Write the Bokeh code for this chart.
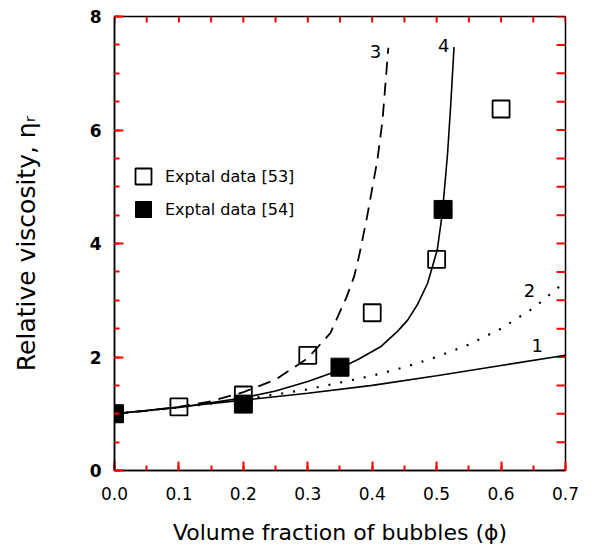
from bokeh.plotting import figure
from bokeh.models import (SingleIntervalTicker, PrintfTickFormatter,
                          Legend, LegendItem, Label, Range1d)
from bokeh.embed import file_html
from bokeh.resources import INLINE

# ---- data ----
phi_c1 = [0.0, 0.1, 0.2, 0.3, 0.4, 0.5, 0.6, 0.7]
eta_c1 = [1.0, 1.12, 1.24, 1.36, 1.50, 1.67, 1.85, 2.03]

phi_c2 = [0.0, 0.1, 0.2, 0.3, 0.4, 0.45, 0.5, 0.55, 0.6, 0.65, 0.7]
eta_c2 = [1.0, 1.11, 1.25, 1.43, 1.67, 1.82, 2.0, 2.22, 2.5, 2.86, 3.33]

phi_c3 = [0.0, 0.05, 0.1, 0.15, 0.2, 0.25, 0.3, 0.335, 0.36, 0.372, 0.38, 0.392, 0.40, 0.408, 0.416, 0.421, 0.425]
eta_c3 = [1.0, 1.05, 1.12, 1.22, 1.38, 1.6, 1.98, 2.42, 3.05, 3.42, 3.8, 4.47, 4.97, 5.47, 6.17, 6.88, 7.45]

phi_c4 = [0.0, 0.1, 0.2, 0.25, 0.3, 0.335, 0.35, 0.38, 0.413, 0.44, 0.455, 0.47, 0.486, 0.501, 0.509, 0.517, 0.522, 0.527]
eta_c4 = [1.0, 1.11, 1.28, 1.40, 1.57, 1.71, 1.80, 1.97, 2.18, 2.46, 2.65, 2.92, 3.30, 3.89, 4.55, 5.59, 6.47, 7.46]

phi_53 = [0.1, 0.2, 0.3, 0.4, 0.5, 0.6]
eta_53 = [1.12, 1.33, 2.03, 2.78, 3.72, 6.37]

phi_54 = [0.0, 0.2, 0.35, 0.51]
eta_54 = [1.0, 1.17, 1.82, 4.6]

curve_labels = ["1", "2", "3", "4"]
curve_label_x = [0.656, 0.644, 0.405, 0.511]
curve_label_y = [2.2, 3.17, 7.38, 7.49]

x_major = [0.0, 0.1, 0.2, 0.3, 0.4, 0.5, 0.6, 0.7]
x_minor = [0.05, 0.15, 0.25, 0.35, 0.45, 0.55, 0.65]
y_major = [0, 2, 4, 6, 8]
y_minor = [0.5, 1, 1.5, 2.5, 3, 3.5, 4.5, 5, 5.5, 6.5, 7, 7.5]

X0, X1 = 0.0, 0.7
Y0, Y1 = 0.0, 8.0

FONT = "DejaVu Sans"
TICK = "red"
FRAME_W, FRAME_H = 451, 455   # plot-area size in px

p = figure(width=593, height=547, output_backend="svg", toolbar_location=None,
           x_range=Range1d(X0, X1 + 1e-6), y_range=Range1d(Y0, Y1),
           min_border_left=114, min_border_right=28, min_border_top=16, min_border_bottom=76,
           x_axis_label="Volume fraction of bubbles (ϕ)",
           y_axis_label="Relative viscosity, ηᵣ")
p.grid.visible = False
p.outline_line_color = "black"
p.outline_line_width = 1.5

xa = p.xaxis[0]
xa.ticker = SingleIntervalTicker(interval=0.1, num_minor_ticks=2)
xa.formatter = PrintfTickFormatter(format="%.1f")
ya = p.yaxis[0]
ya.ticker = SingleIntervalTicker(interval=2, num_minor_ticks=4)

for ax in (xa, ya):
    ax.major_tick_in = 9
    ax.major_tick_out = 0
    ax.minor_tick_in = 5
    ax.minor_tick_out = 0
    ax.major_tick_line_color = TICK
    ax.minor_tick_line_color = TICK
    ax.major_tick_line_width = 2
    ax.minor_tick_line_width = 2
    ax.axis_line_width = 1.5
    ax.major_label_text_font = FONT
    ax.major_label_text_font_size = "17px"
    ax.major_label_text_color = "black"
    ax.axis_label_text_font = FONT
    ax.axis_label_text_font_style = "normal"
    ax.axis_label_text_color = "black"

xa.major_label_standoff = 16
xa.axis_label_text_font_size = "22px"
xa.axis_label_standoff = 17
ya.major_label_standoff = 13
ya.major_label_text_font_style = "bold"
ya.axis_label_text_font_size = "25px"
ya.axis_label_standoff = 46

# inward tick marks on the top and right edges (lengths in px -> data units)
px_x = (X1 - X0) / FRAME_W
px_y = (Y1 - Y0) / FRAME_H
top_ticks = x_major + x_minor
right_ticks = y_major + y_minor
p.segment(x0=top_ticks, y0=[Y1] * len(top_ticks), x1=top_ticks,
          y1=[Y1 - 6 * px_y] * len(top_ticks), line_color=TICK, line_width=2)
p.segment(x0=[X1] * len(right_ticks), y0=right_ticks, x1=[X1 - 9 * px_x] * len(right_ticks),
          y1=right_ticks, line_color=TICK, line_width=2)

# curves
p.line(phi_c1, eta_c1, line_color="black", line_width=1.6)
p.line(phi_c2, eta_c2, line_color="black", line_width=2.2, line_dash="2 10")
p.line(phi_c3, eta_c3, line_color="black", line_width=1.8, line_dash="13 8")
p.line(phi_c4, eta_c4, line_color="black", line_width=1.6)

# data points
r53 = p.scatter(phi_53, eta_53, marker="square", size=17, fill_alpha=0,
                line_color="black", line_width=1.8)
r54 = p.scatter(phi_54, eta_54, marker="square", size=18, fill_color="black",
                line_color="black", line_width=1)

leg_style = dict(padding=0, margin=0, glyph_width=40, glyph_height=40, label_standoff=2,
                 label_text_font=FONT, label_text_font_size="16px", label_text_color="black",
                 border_line_alpha=0, background_fill_alpha=0)
p.add_layout(Legend(items=[LegendItem(label="Exptal data [53]", renderers=[r53])],
                    location=(9, 274), **leg_style))
p.add_layout(Legend(items=[LegendItem(label="Exptal data [54]", renderers=[r54])],
                    location=(9, 241), **leg_style))

for t, lx, ly in zip(curve_labels, curve_label_x, curve_label_y):
    p.add_layout(Label(x=lx, y=ly, text=t, text_align="center", text_baseline="middle",
                       text_font=FONT, text_font_size="18px", text_color="black"))

open("out.html", "w").write(file_html(p, INLINE))
